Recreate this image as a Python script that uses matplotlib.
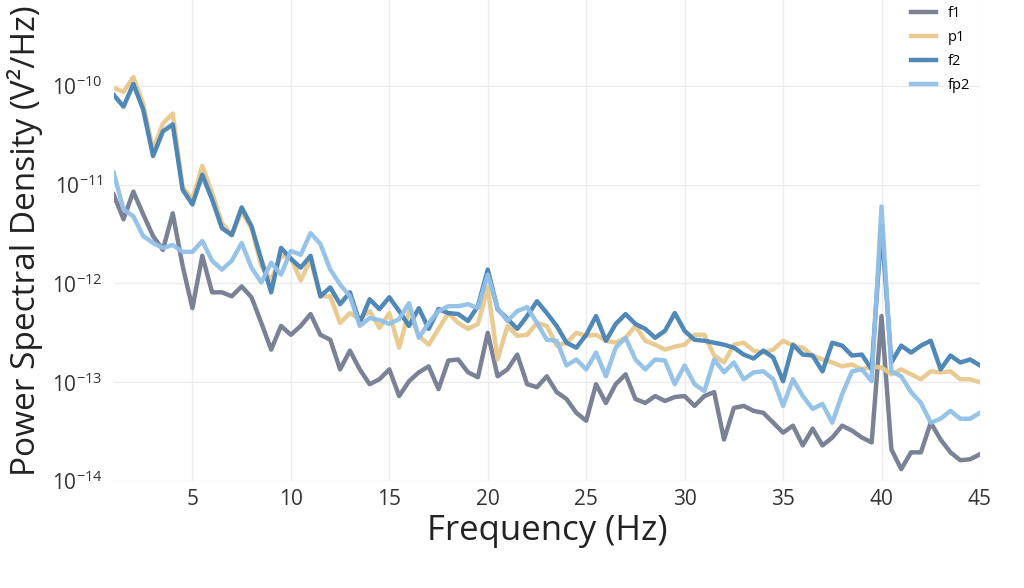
import matplotlib.pyplot as plt
import numpy as np

# frequency axis (0.5 Hz bins from 1 to 45 Hz)
freqs = np.arange(1, 45.01, 0.5)

# log10 of PSD (V^2/Hz)
f1_log = [-11.10, -11.35, -11.07, -11.30, -11.52, -11.66, -11.29, -11.82, -12.25, -11.72,
          -12.09, -12.09, -12.13, -12.03, -12.14, -12.40, -12.67, -12.43, -12.52, -12.43,
          -12.31, -12.52, -12.57, -12.87, -12.68, -12.87, -13.02, -12.97, -12.87, -13.14,
          -12.99, -12.90, -12.84, -13.07, -12.78, -12.77, -12.90, -12.95, -12.50, -12.94,
          -12.87, -12.72, -13.02, -13.05, -12.94, -13.10, -13.17, -13.31, -13.39, -13.02,
          -13.21, -13.02, -12.92, -13.17, -13.21, -13.14, -13.19, -13.15, -13.14, -13.24,
          -13.14, -13.10, -13.58, -13.26, -13.24, -13.29, -13.31, -13.41, -13.51, -13.44,
          -13.64, -13.47, -13.64, -13.56, -13.44, -13.49, -13.56, -13.61, -12.33, -13.68,
          -13.88, -13.71, -13.71, -13.41, -13.58, -13.71, -13.79, -13.78, -13.73]

p1_log = [-10.02, -10.06, -9.91, -10.18, -10.65, -10.38, -10.28, -11.02, -11.15, -10.81,
          -11.08, -11.39, -11.51, -11.27, -11.44, -11.82, -11.97, -11.72, -11.74, -11.97,
          -11.76, -12.13, -12.13, -12.40, -12.30, -12.36, -12.28, -12.45, -12.30, -12.65,
          -12.28, -12.53, -12.62, -12.46, -12.30, -12.40, -12.46, -12.41, -12.04, -12.77,
          -12.43, -12.53, -12.52, -12.40, -12.43, -12.63, -12.60, -12.50, -12.53, -12.52,
          -12.58, -12.60, -12.55, -12.43, -12.58, -12.62, -12.67, -12.64, -12.62, -12.52,
          -12.52, -12.73, -12.80, -12.62, -12.60, -12.68, -12.70, -12.67, -12.58, -12.63,
          -12.65, -12.73, -12.77, -12.80, -12.84, -12.82, -12.87, -12.84, -12.85, -12.92,
          -12.87, -12.92, -12.97, -12.89, -12.90, -12.89, -12.97, -12.97, -13.00]

f2_log = [-10.09, -10.21, -9.98, -10.24, -10.71, -10.46, -10.39, -11.05, -11.20, -10.90,
          -11.15, -11.44, -11.51, -11.23, -11.42, -11.76, -12.09, -11.64, -11.75, -11.84,
          -11.72, -12.13, -12.04, -12.21, -12.09, -12.40, -12.16, -12.26, -12.14, -12.28,
          -12.43, -12.25, -12.46, -12.26, -12.30, -12.31, -12.38, -12.23, -11.86, -12.26,
          -12.36, -12.46, -12.33, -12.18, -12.30, -12.43, -12.60, -12.65, -12.52, -12.33,
          -12.58, -12.41, -12.31, -12.41, -12.46, -12.55, -12.48, -12.30, -12.48, -12.57,
          -12.58, -12.60, -12.62, -12.65, -12.72, -12.76, -12.68, -12.75, -12.99, -12.62,
          -12.72, -12.73, -12.89, -12.60, -12.63, -12.73, -12.72, -12.87, -11.42, -12.80,
          -12.63, -12.70, -12.63, -12.58, -12.87, -12.73, -12.80, -12.77, -12.83]

fp2_log = [-10.88, -11.25, -11.32, -11.52, -11.59, -11.64, -11.61, -11.68, -11.68, -11.57,
           -11.77, -11.86, -11.77, -11.59, -11.84, -11.99, -11.79, -11.91, -11.67, -11.71,
           -11.49, -11.60, -11.86, -12.01, -12.13, -12.43, -12.35, -12.37, -12.41, -12.36,
           -12.20, -12.55, -12.40, -12.28, -12.23, -12.23, -12.21, -12.25, -11.91, -12.25,
           -12.38, -12.28, -12.24, -12.40, -12.57, -12.58, -12.83, -12.77, -12.87, -12.70,
           -12.94, -12.65, -12.55, -12.77, -12.87, -12.77, -12.78, -13.02, -12.83, -13.02,
           -13.09, -12.77, -12.90, -12.80, -12.97, -12.90, -12.89, -12.97, -13.24, -12.97,
           -13.14, -13.27, -13.22, -13.41, -13.12, -12.89, -12.87, -12.99, -11.22, -12.89,
           -12.94, -13.10, -13.21, -13.41, -13.37, -13.29, -13.37, -13.37, -13.31]

labels = ['f1', 'p1', 'f2', 'fp2']
colors = ['#747b91', '#e8c98c', '#4682b4', '#92c0e8']
series = [f1_log, p1_log, f2_log, fp2_log]

plt.rcParams['font.family'] = ['Open Sans', 'DejaVu Sans']

fig = plt.figure(figsize=(10.24, 5.88), dpi=100)
ax = fig.add_axes([0.111, 0.182, 0.846, 0.818])

for lab, col, vals in zip(labels, colors, series):
    ax.plot(freqs, 10 ** np.array(vals), color=col, linewidth=3.2, label=lab,
            alpha=0.95, solid_joinstyle='round')

ax.set_yscale('log')
ax.set_xlim(1, 45)
ax.set_ylim(1e-14, 10 ** -9.13)
ax.set_xticks([5, 10, 15, 20, 25, 30, 35, 40, 45])
ax.set_yticks([1e-14, 1e-13, 1e-12, 1e-11, 1e-10])
ax.set_yticklabels([r'$\mathregular{10^{-%d}}$' % e for e in [14, 13, 12, 11, 10]])
ax.minorticks_off()
ax.tick_params(axis='both', length=0, labelsize=15, colors='#333333')
ax.tick_params(axis='x', pad=6)
ax.tick_params(axis='y', pad=8)
ax.grid(True, color='#ececec', linewidth=1)
for s in ax.spines.values():
    s.set_visible(False)

ax.set_xlabel('Frequency (Hz)', fontsize=25, color='#222222', labelpad=3)
ax.set_ylabel('Power Spectral Density (V²/Hz)', fontsize=24, color='#222222', labelpad=6)

leg = ax.legend(loc='upper right', frameon=False, fontsize=10.5, handlelength=1.7,
                borderaxespad=0.0, bbox_to_anchor=(0.995, 1.0), labelspacing=0.62)

plt.savefig('out.png', dpi=100)
